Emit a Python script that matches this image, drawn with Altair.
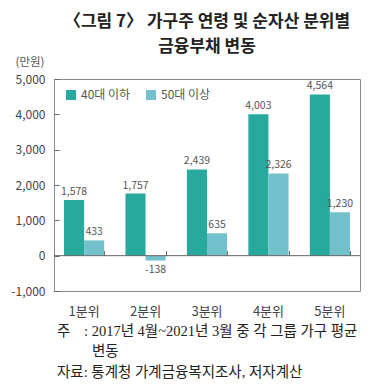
import altair as alt
import pandas as pd

title_lines = ["〈그림 7〉 가구주 연령 및 순자산 분위별", "금융부채 변동"]
categories = ["1분위", "2분위", "3분위", "4분위", "5분위"]
series_names = ["40대 이하", "50대 이상"]
under40 = [1578, 1757, 2439, 4003, 4564]
over50 = [433, -138, 635, 2326, 1230]
y_ticks = [-1000, 0, 1000, 2000, 3000, 4000, 5000]
unit_label = "(만원)"
note_mark = "주"
note_line1 = ": 2017년 4월~2021년 3월 중 각 그룹 가구 평균"
note_line2 = "변동"
source_line = "자료: 통계청 가계금융복지조사, 저자계산"
colors = ["#27a99e", "#73c1cc"]

rows = []
for c, a, b in zip(categories, under40, over50):
    rows.append({"cat": c, "grp": series_names[0], "val": a})
    rows.append({"cat": c, "grp": series_names[1], "val": b})
df = pd.DataFrame(rows)

W, H = 306, 212
FONT = "Noto Sans CJK KR"
SERIF = "Liberation Serif, Noto Sans CJK KR"
xscale = alt.Scale(domain=categories, paddingInner=0.346, paddingOuter=0.163)
yscale = alt.Scale(domain=[-1000, 5000], nice=False, zero=False)

base = alt.Chart(df).transform_calculate(
    lab="replace(format(datum.val, ',d'), '\u2212', '-')"
)

bars = base.mark_bar().encode(
    x=alt.X("cat:N", scale=xscale, sort=categories,
            axis=alt.Axis(title=None, labelAngle=0, ticks=False, domain=False,
                          labelFontSize=13, labelColor="#444", labelPadding=14,
                          labelFont=FONT)),
    xOffset=alt.XOffset("grp:N", sort=series_names),
    y=alt.Y("val:Q", scale=yscale,
            axis=alt.Axis(values=y_ticks, format=",d", title=unit_label, titleAngle=0,
                          labelExpr="replace(datum.label, '\u2212', '-')",
                          titleAlign="left", titleBaseline="middle", titleX=-39, titleY=-17,
                          titleFontSize=11.5, titleFontWeight="normal", titleColor="#555",
                          titleFont=FONT, labelFont=FONT,
                          labelFontSize=12, labelColor="#444", ticks=False, domain=False,
                          grid=False, labelPadding=9)),
    color=alt.Color("grp:N", scale=alt.Scale(domain=series_names, range=colors),
                    legend=alt.Legend(title=None, orient="none", direction="horizontal",
                                      legendX=11, legendY=10, symbolType="square",
                                      symbolSize=100, symbolStrokeWidth=0,
                                      labelFontSize=12, labelColor="#555", labelFont=FONT,
                                      columnPadding=14)),
)

pos_labels = base.transform_filter("datum.val >= 0").mark_text(
    baseline="bottom", dy=-3, fontSize=10.5, color="#555", font=FONT
).encode(
    x=alt.X("cat:N", scale=xscale, sort=categories, axis=None),
    xOffset=alt.XOffset("grp:N", sort=series_names),
    y=alt.Y("val:Q", scale=yscale, axis=None),
    text="lab:N",
)

neg_labels = base.transform_filter("datum.val < 0").mark_text(
    baseline="top", dy=4, fontSize=10.5, color="#555", font=FONT
).encode(
    x=alt.X("cat:N", scale=xscale, sort=categories, axis=None),
    xOffset=alt.XOffset("grp:N", sort=series_names),
    y=alt.Y("val:Q", scale=yscale, axis=None),
    text="lab:N",
)

zero_rule = alt.Chart(pd.DataFrame({"z": [0]})).mark_rule(color="#666", strokeWidth=1).encode(
    y=alt.Y("z:Q", scale=yscale, axis=None)
)

zero_y = H * 5000 / 6000
cat_ticks = alt.Chart(pd.DataFrame({"cat": categories})).mark_point(opacity=0).encode(
    x=alt.X("cat:N", scale=xscale, sort=categories,
            axis=alt.Axis(orient="top", offset=-zero_y, labels=False, domain=False,
                          ticks=True, tickBand="extent", tickSize=5, tickColor="#666",
                          title=None, grid=False)),
    y=alt.Y("z:Q", scale=yscale, axis=None),
).transform_calculate(z="0")

y_tick_layer = alt.Chart(pd.DataFrame({"v": y_ticks})).mark_point(opacity=0).encode(
    y=alt.Y("v:Q", scale=yscale,
            axis=alt.Axis(orient="right", offset=-W, values=y_ticks, labels=False,
                          domain=False, ticks=True, tickSize=5, tickColor="#666",
                          grid=False, title=None)),
)

def note(text, x, y):
    return alt.Chart(pd.DataFrame({"t": [text]})).mark_text(
        align="left", baseline="middle", font=SERIF, fontSize=14.5, color="#222"
    ).encode(x=alt.value(x), y=alt.value(y), text="t:N")

notes = note(note_mark, 3, 253) + note(note_line1, 30, 253) + note(note_line2, 38, 273) + note(source_line, 3, 294)

chart = alt.layer(
    bars, pos_labels, neg_labels, zero_rule, cat_ticks, y_tick_layer, notes
).resolve_axis(x="independent", y="independent").properties(
    width=W, height=H,
    autosize=alt.AutoSizeParams(type="none"),
    padding={"left": 46, "top": 71, "right": 13, "bottom": 88},
    title=alt.TitleParams(text=title_lines, fontSize=17, fontWeight="bold", font=FONT,
                          color="#222", anchor="middle", offset=0, lineHeight=25),
).configure_view(stroke="#8a8a8a", strokeWidth=1)

chart.save("out.html", embed_options={"renderer": "svg", "actions": False})
